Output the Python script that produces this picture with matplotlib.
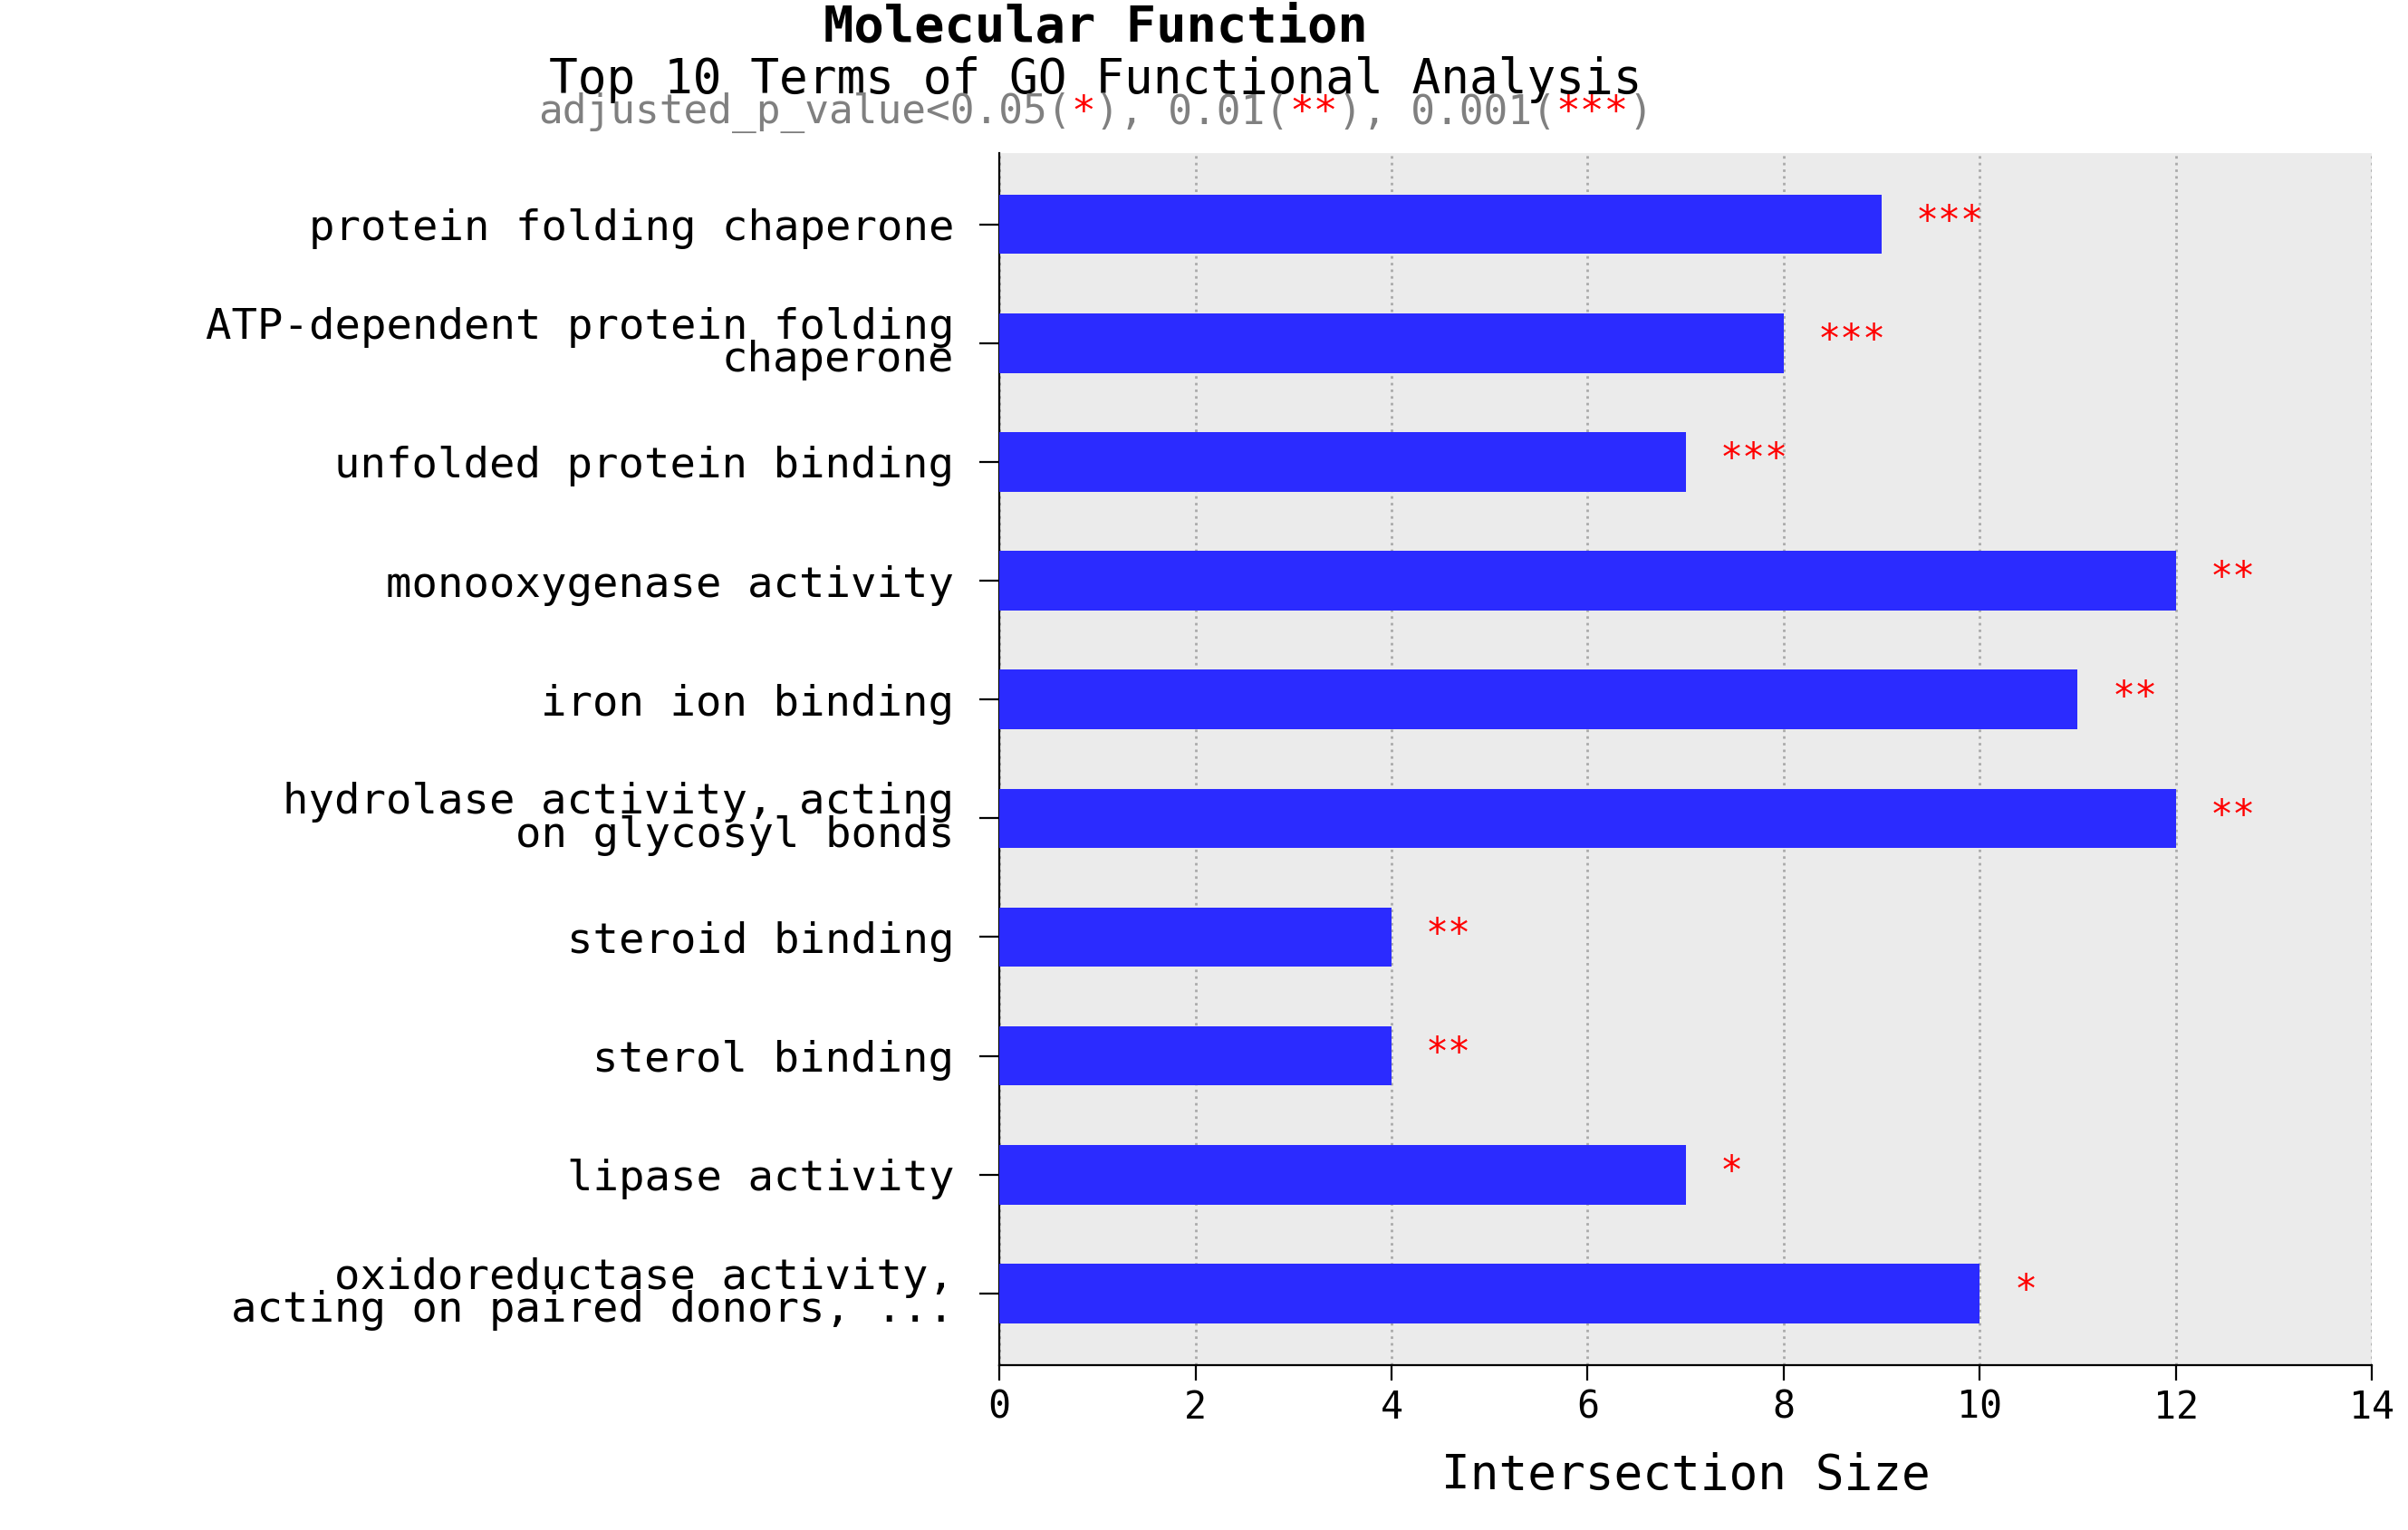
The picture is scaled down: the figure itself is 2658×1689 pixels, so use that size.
import numpy as np
import matplotlib.pyplot as plt

plt.rcParams['font.family'] = ['DejaVu Sans Mono']

terms = ["protein folding chaperone",
         "ATP-dependent protein folding\nchaperone",
         "unfolded protein binding",
         "monooxygenase activity",
         "iron ion binding",
         "hydrolase activity, acting\non glycosyl bonds",
         "steroid binding",
         "sterol binding",
         "lipase activity",
         "oxidoreductase activity,\nacting on paired donors, ..."]
sizes = [9, 8, 7, 12, 11, 12, 4, 4, 7, 10]
stars = ["***", "***", "***", "**", "**", "**", "**", "**", "*", "*"]

fig = plt.figure(figsize=(13.29, 8.445), dpi=200)
ax = fig.add_axes([0.415, 0.108, 0.57, 0.792])
ax.set_facecolor('#ebebeb')
y = np.arange(len(terms))
ax.barh(y, sizes, height=0.5, color='#2b2bff', zorder=3)
for yi, s, st in zip(y, sizes, stars):
    ax.text(s + 0.35, yi - 0.02, st, color='red', fontsize=15, va='center',
            ha='left', zorder=4)
ax.set_ylim(len(terms) - 0.4, -0.6)
ax.set_xlim(0, 14)
ax.set_xticks(range(0, 15, 2))
ax.set_yticks(y)
ax.set_yticklabels(terms, fontsize=17, linespacing=0.75)
ax.tick_params(axis='y', length=8, pad=10)
ax.tick_params(axis='x', length=6, labelsize=15)
ax.grid(axis='x', color='#aaaaaa', linestyle=':', linewidth=1, zorder=0)
for side in ['top', 'right']:
    ax.spines[side].set_visible(False)
ax.set_xlabel("Intersection Size", fontsize=19, labelpad=10)

fig.text(0.455, 0.982, "Molecular Function", ha='center', va='center',
         fontsize=20, fontweight='bold')
fig.text(0.455, 0.948, "Top 10 Terms of GO Functional Analysis", ha='center',
         va='center', fontsize=19)
# subtitle with red stars, pieces placed side by side
parts = [("adjusted_p_value<0.05(", 'gray'), ("*", 'red'), ("), 0.01(", 'gray'),
         ("**", 'red'), ("), 0.001(", 'gray'), ("***", 'red'), (")", 'gray')]
full = "".join(p for p, _ in parts)
r = fig.canvas.get_renderer()
probe = fig.text(0, 0, full, fontsize=16)
w = probe.get_window_extent(r).width / fig.bbox.width
probe.remove()
cw = w / len(full)
x0 = 0.455 - w / 2
for p, c in parts:
    fig.text(x0, 0.926, p, color=c, fontsize=16, ha='left', va='center')
    x0 += len(p) * cw

fig.savefig("out.png", dpi=200)
